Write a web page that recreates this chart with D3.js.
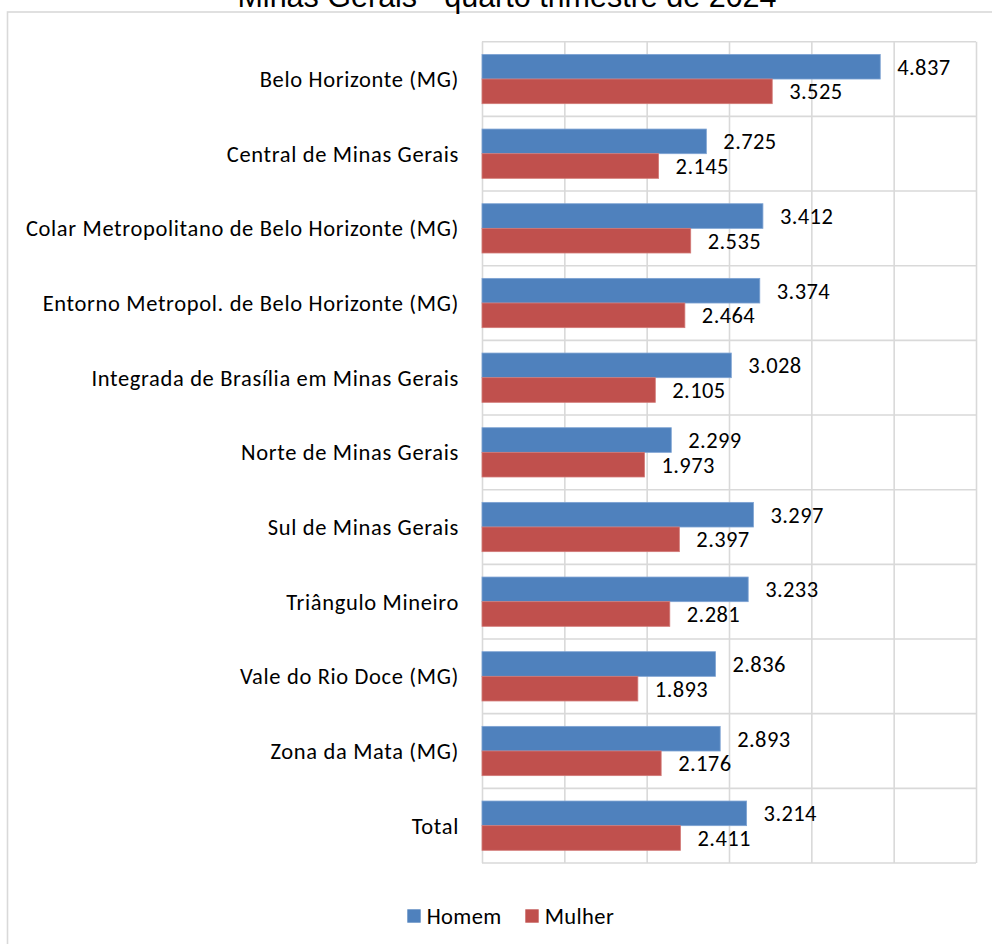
<!DOCTYPE html>
<html>
<head>
<meta charset="utf-8">
<script src="https://cdn.jsdelivr.net/npm/d3@7"></script>
<style>
  html, body { margin: 0; padding: 0; background: #fff; }
  svg { display: block; }
</style>
</head>
<body>
<svg id="chart" width="992" height="944"></svg>
<script>
const title = "Minas Gerais - quarto trimestre de 2024";
const categories = [
  "Belo Horizonte (MG)",
  "Central de Minas Gerais",
  "Colar Metropolitano de Belo Horizonte (MG)",
  "Entorno Metropol. de Belo Horizonte (MG)",
  "Integrada de Brasília em Minas Gerais",
  "Norte de Minas Gerais",
  "Sul de Minas Gerais",
  "Triângulo Mineiro",
  "Vale do Rio Doce (MG)",
  "Zona da Mata (MG)",
  "Total"
];
const seriesNames = ["Homem", "Mulher"];
const homem  = [4.837, 2.725, 3.412, 3.374, 3.028, 2.299, 3.297, 3.233, 2.836, 2.893, 3.214];
const mulher = [3.525, 2.145, 2.535, 2.464, 2.105, 1.973, 2.397, 2.281, 1.893, 2.176, 2.411];
const xTicks = [0, 1, 2, 3, 4, 5, 6];

(function () {
const colors = ["#4F81BD", "#C0504D"];
const gridColor = "#d9d9d9";
const labelFont = "Carlito, Calibri, Lato, sans-serif";
const fs = 22.5, ls = 0.4, lsCat = 0.65;

const svg = d3.select("#chart");
svg.append("rect").attr("width", 992).attr("height", 944).attr("fill", "#fff");

svg.append("rect")
  .attr("x", 7.5).attr("y", 12)
  .attr("width", 1100).attr("height", 1100)
  .attr("fill", "none").attr("stroke", gridColor).attr("stroke-width", 1.6);

svg.append("text")
  .attr("x", 507).attr("y", 6.5)
  .attr("text-anchor", "middle")
  .attr("font-family", "'Liberation Sans', Arial, sans-serif")
  .attr("font-size", 30.5)
  .attr("fill", "#000")
  .text(title);

const pL = 482, pR = 976, pT = 41.7, pB = 863;
const x = d3.scaleLinear().domain([0, 6]).range([pL, pR]);
const y = d3.scaleBand().domain(categories).range([pT, pB]).padding(0);
const bw = y.bandwidth();
const barH = bw * 0.33;

const g = svg.append("g");

const gx = g.append("g")
  .attr("transform", `translate(0,${pB})`)
  .call(d3.axisBottom(x).tickValues(xTicks).tickSize(-(pB - pT)).tickFormat(""));
gx.select(".domain").remove();
gx.selectAll(".tick line").attr("stroke", gridColor).attr("stroke-width", 1.6);

const bounds = categories.map(c => y(c)).concat([y(categories[categories.length - 1]) + bw]);
g.selectAll("line.hgrid").data(bounds).enter().append("line")
  .attr("class", "hgrid")
  .attr("x1", pL).attr("x2", pR)
  .attr("y1", d => d).attr("y2", d => d)
  .attr("stroke", gridColor).attr("stroke-width", 1.6);

const rows = categories.map((c, i) => ({ c, vals: [homem[i], mulher[i]] }));
rows.forEach(r => {
  const center = y(r.c) + bw / 2;
  r.vals.forEach((v, s) => {
    const y0 = center - barH + s * barH;
    g.append("rect")
      .attr("x", x(0)).attr("y", y0)
      .attr("width", x(v) - x(0)).attr("height", barH)
      .attr("fill", colors[s])
      .attr("stroke", s === 0 ? "#7ea3d3" : "#d27a77").attr("stroke-width", 0.8);
    g.append("text")
      .attr("x", x(v) + 17).attr("y", y0 + barH / 2)
      .attr("dy", "0.35em")
      .attr("font-family", labelFont).attr("font-size", fs)
      .attr("letter-spacing", ls)
      .attr("fill", "#000")
      .text(d3.format(".3f")(v));
  });
});

g.selectAll("text.cat").data(categories).enter().append("text")
  .attr("class", "cat")
  .attr("x", 459).attr("y", d => y(d) + bw / 2)
  .attr("dy", "0.35em")
  .attr("text-anchor", "end")
  .attr("font-family", labelFont).attr("font-size", fs)
  .attr("letter-spacing", lsCat)
  .attr("fill", "#000")
  .text(d => d);

const legendX = [407.3, 525.3];
seriesNames.forEach((n, i) => {
  svg.append("rect")
    .attr("x", legendX[i]).attr("y", 909.3)
    .attr("width", 13.4).attr("height", 13.4)
    .attr("fill", colors[i]);
  svg.append("text")
    .attr("x", legendX[i] + 19.4).attr("y", 916)
    .attr("dy", "0.35em")
    .attr("font-family", labelFont).attr("font-size", fs)
    .attr("letter-spacing", ls)
    .attr("fill", "#000")
    .text(n);
});
})();
</script>
</body>
</html>
